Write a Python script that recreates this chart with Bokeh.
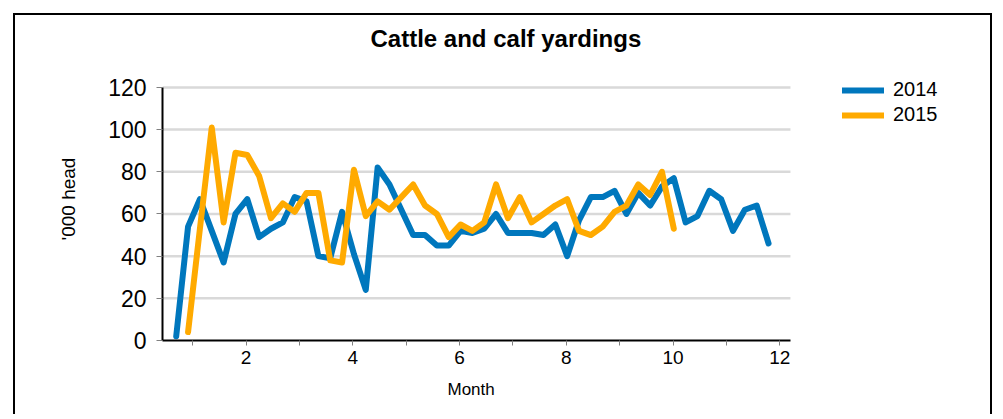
from bokeh.plotting import figure
from bokeh.models import FixedTicker, Legend, LegendItem, Range1d, Title
from bokeh.embed import file_html
from bokeh.resources import INLINE

# Weekly cattle and calf yardings ('000 head); x is position in months
weeks_2014 = list(range(0, 51))
yard_2014 = [2, 54, 67, 52, 37, 60, 67, 49, 53, 56,
             68, 66, 40, 39, 61, 41, 24, 82, 74, 62,
             50, 50, 45, 45, 52, 51, 53, 60, 51, 51,
             51, 50, 55, 40, 57, 68, 68, 71, 60, 70,
             64, 73, 77, 56, 59, 71, 67, 52, 62, 64,
             46]
weeks_2015 = list(range(1, 43))
yard_2015 = [4, 53, 101, 56, 89, 88, 78, 58, 65, 61,
             70, 70, 38, 37, 81, 59, 66, 62, 68, 74,
             64, 60, 49, 55, 52, 56, 74, 58, 68, 56,
             60, 64, 67, 52, 50, 54, 61, 64, 74, 69,
             80, 53]
series_names = ["2014", "2015"]
series_colors = ["#0077BD", "#FFAA00"]
x_major = [2, 4, 6, 8, 10, 12]
x_minor = [1, 3, 5, 7, 9, 11]
y_ticks = [0, 20, 40, 60, 80, 100, 120]

FIRST_WEEK_MONTH = 0.69
WEEK_STEP = 0.222
month_2014 = [FIRST_WEEK_MONTH + w * WEEK_STEP for w in weeks_2014]
month_2015 = [FIRST_WEEK_MONTH + w * WEEK_STEP for w in weeks_2015]

X_START, X_AXIS_END, X_VIEW_END = 0.433, 12.2, 15.93
Y_START, Y_AXIS_END, Y_VIEW_END = 0, 120, 134.2

FONT = "Liberation Sans"

p = figure(width=979, height=401, output_backend="svg", toolbar_location=None,
           x_range=Range1d(X_START, X_VIEW_END), y_range=Range1d(Y_START, Y_VIEW_END),
           min_border_left=147, min_border_right=5, min_border_top=42,
           min_border_bottom=76, title="Cattle and calf yardings")
p.styles = {"border-top": "2px solid black", "border-left": "2px solid black",
            "border-right": "2px solid black",
            "margin-left": "13px", "margin-top": "13px", "margin-right": "5px"}
p.outline_line_color = None

p.title.text_font = FONT
p.title.text_font_size = "24px"
p.title.text_font_style = "bold"
p.title.text_color = "black"
p.title.align = "left"
p.title.offset = 208
p.title.standoff = 12

# horizontal grid lines, limited to the axis extent
grid_y = y_ticks[1:]
p.segment(x0=[X_START] * len(grid_y), y0=grid_y, x1=[X_AXIS_END] * len(grid_y), y1=grid_y,
          line_color="#D9D9D9", line_width=2.5)

r1 = p.line(month_2014, yard_2014, line_color=series_colors[0], line_width=6,
            line_join="round", line_cap="round")
r2 = p.line(month_2015, yard_2015, line_color=series_colors[1], line_width=6,
            line_join="round", line_cap="round")

legend = Legend(items=[LegendItem(label=series_names[0], renderers=[r1]),
                       LegendItem(label=series_names[1], renderers=[r2])],
                location=(680, 214), padding=0, margin=0, border_line_color=None,
                background_fill_alpha=0, glyph_width=42, glyph_height=20,
                label_height=20, spacing=2, label_standoff=9,
                label_text_font=FONT, label_text_font_size="20px",
                label_text_color="black")
p.add_layout(legend)

xa = p.xaxis[0]
xa.bounds = (X_START, X_AXIS_END)
xa.ticker = FixedTicker(ticks=x_major, minor_ticks=x_minor)
xa.axis_line_color = "black"
xa.axis_line_width = 2
xa.major_tick_line_color = "#808080"
xa.minor_tick_line_color = "#808080"
xa.major_tick_in = 0
xa.major_tick_out = 5
xa.minor_tick_in = 0
xa.minor_tick_out = 5
xa.major_label_text_font = FONT
xa.major_label_text_font_size = "19px"
xa.major_label_text_color = "black"
xa.major_label_standoff = 5

# x axis title, placed under the centre of the axis extent
p.add_layout(Title(text="Month", text_font=FONT, text_font_size="17px",
                   text_font_style="normal", text_color="black",
                   align="left", offset=285, standoff=22), "below")

ya = p.yaxis[0]
ya.bounds = (Y_START, Y_AXIS_END)
ya.ticker = FixedTicker(ticks=y_ticks)
ya.axis_line_color = "black"
ya.axis_line_width = 2
ya.major_tick_line_color = "#808080"
ya.major_tick_in = 0
ya.major_tick_out = 6
ya.minor_tick_line_color = None
ya.major_label_text_font = FONT
ya.major_label_text_font_size = "23px"
ya.major_label_text_color = "black"
ya.major_label_standoff = 10
ya.axis_label = "'000 head"
ya.axis_label_text_font = FONT
ya.axis_label_text_font_size = "19px"
ya.axis_label_text_font_style = "normal"
ya.axis_label_text_color = "black"
ya.axis_label_standoff = 26

p.xgrid.grid_line_color = None
p.ygrid.grid_line_color = None

open("out.html", "w").write(file_html(p, INLINE))
